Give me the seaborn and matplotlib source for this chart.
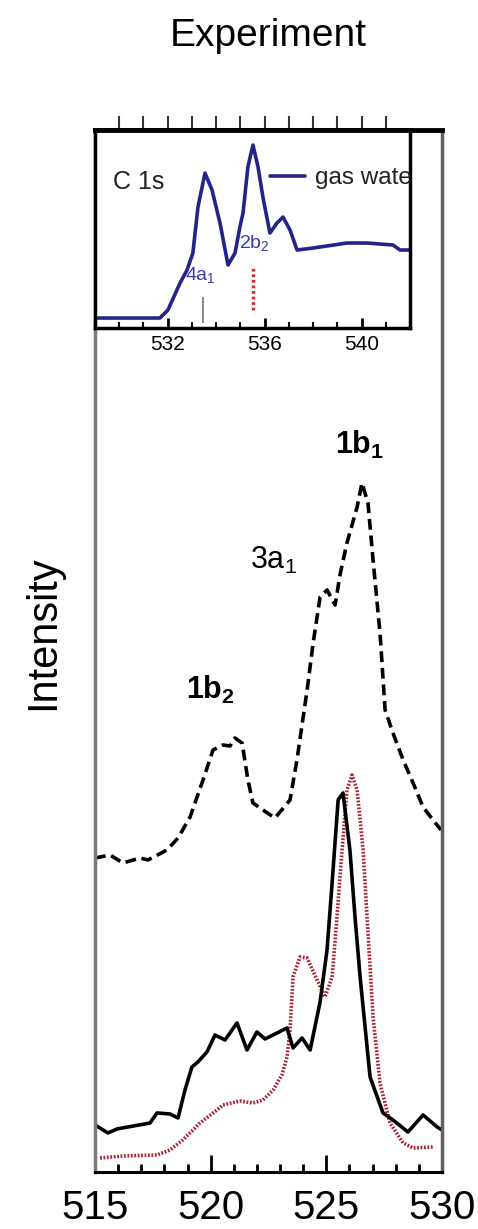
import numpy as np
import pandas as pd
import matplotlib
matplotlib.use("Agg")
import matplotlib.pyplot as plt
from matplotlib.ticker import MultipleLocator
import seaborn as sns

# ── Data (intensity in arbitrary units) ──
# dashed spectrum (upper curve)
dash_x = [515.00, 515.65, 516.21, 516.95, 517.29, 518.11, 518.59, 519.11, 519.67,
          520.10, 520.53, 520.84, 521.05, 521.36, 521.61, 521.83, 522.26, 522.78,
          523.43, 523.73, 524.17, 524.43, 524.73, 525.03, 525.38, 525.59, 525.89,
          526.33, 526.54, 526.80, 527.02, 527.32, 527.54, 527.88, 528.32, 528.75,
          529.18, 529.61, 529.96]
dash_y = [314, 317, 309, 314, 312, 322, 334, 355, 392,
          422, 427, 426, 434, 429, 392, 369, 362, 354,
          372, 412, 482, 529, 575, 582, 567, 597, 629,
          665, 689, 669, 612, 539, 462, 439, 412, 389,
          365, 352, 342]

# solid black spectrum
solid_x = [515.00, 515.56, 515.95, 517.38, 517.68, 518.24, 518.59, 518.89, 519.19,
           519.45, 519.84, 520.19, 520.62, 521.14, 521.57, 522.00, 522.35, 522.87,
           523.30, 523.56, 523.95, 524.30, 524.73, 525.03, 525.25, 525.51, 525.72,
           526.02, 526.24, 526.46, 526.89, 527.45, 527.88, 528.53, 529.18, 529.79,
           530.00]
solid_y = [47, 39, 43, 49, 59, 58, 54, 82, 105,
           110, 120, 137, 132, 149, 122, 140, 133, 139,
           144, 124, 134, 122, 170, 222, 289, 372, 379,
           322, 255, 195, 95, 59, 52, 40, 57, 45,
           42]

# red dotted spectrum
red_x = [515.22, 516.21, 517.68, 518.24, 518.80, 519.54, 520.27, 520.53, 521.27,
         521.83, 522.26, 522.70, 523.08, 523.30, 523.43, 523.56, 523.86, 524.17,
         524.60, 524.94, 525.25, 525.46, 525.68, 525.89, 526.11, 526.33, 526.59,
         526.76, 527.02, 527.32, 527.75, 528.32, 528.75, 529.61]
red_y = [14, 16, 17, 22, 32, 49, 62, 67, 71,
         69, 72, 82, 97, 115, 142, 195, 215, 214,
         192, 175, 195, 255, 322, 382, 397, 382, 322,
         255, 155, 89, 49, 29, 24, 25]

# inset: C 1s gas water
ins_x = [529.00, 531.68, 532.01, 532.51, 532.80, 533.04, 533.25, 533.54, 533.83,
         534.16, 534.49, 534.78, 534.98, 535.11, 535.31, 535.52, 535.73, 535.93,
         536.22, 536.51, 536.76, 537.05, 537.34, 538.00, 539.40, 540.23, 541.30,
         541.59, 542.00]
ins_y = [10, 10, 18, 45, 58, 75, 121, 155, 138,
         105, 63, 75, 101, 115, 161, 183, 161, 131,
         95, 105, 111, 98, 78, 80, 85, 85, 83,
         78, 78]

# inset markers (position, ymin, ymax)
mark_4a1 = (533.46, 5, 31)
mark_2b2 = (535.52, 18, 60)

main_ticks = [515, 520, 525, 530]
inset_ticks = [532, 536, 540]

# ── Style ──
sns.set_theme(style="white")
plt.rcParams["font.family"] = ["Liberation Sans", "DejaVu Sans"]
plt.rcParams["text.color"] = "black"
plt.rcParams["xtick.color"] = "black"
plt.rcParams["xtick.labelcolor"] = "black"
plt.rcParams["mathtext.fontset"] = "custom"
plt.rcParams["mathtext.rm"] = "Liberation Sans"
plt.rcParams["mathtext.it"] = "Liberation Sans:italic"
plt.rcParams["mathtext.bf"] = "Liberation Sans:bold"

BLUE = "#23238a"
RED = "#a82434"

fig = plt.figure(figsize=(4.78, 12.29), dpi=100)
fig.patch.set_facecolor("white")

# main axes
ax = fig.add_axes([0.1987, 0.0464, 0.726, 0.8478])
sns.lineplot(x=dash_x, y=dash_y, ax=ax, color="black", lw=2.6, legend=False)
ax.lines[-1].set_dashes((3, 1.6))
sns.lineplot(x=red_x, y=red_y, ax=ax, color=RED, lw=2.6, legend=False)
ax.lines[-1].set_linestyle((0, (0.5, 0.45)))
sns.lineplot(x=solid_x, y=solid_y, ax=ax, color="black", lw=2.6, legend=False)

ax.set_xlim(515, 530)
ax.set_ylim(0, 1042)
ax.set_xticks(main_ticks)
ax.xaxis.set_minor_locator(MultipleLocator(1))
ax.set_yticks([])
ax.tick_params(axis="x", which="major", direction="in", length=12, width=2,
               labelsize=29, pad=12, bottom=True, color="black", labelcolor="black")
ax.tick_params(axis="x", which="minor", direction="in", length=6, width=2,
               bottom=True, color="black")
ax.set_xlabel("")
ax.set_ylabel("")
ax.spines["left"].set_color("#7a7a7a")
ax.spines["left"].set_linewidth(2.5)
ax.spines["right"].set_color("#606060")
ax.spines["right"].set_linewidth(2.5)
ax.spines["top"].set_color("black")
ax.spines["top"].set_linewidth(3.5)
ax.spines["bottom"].set_color("black")
ax.spines["bottom"].set_linewidth(2.2)

ax.text(526.45, 727, r"$\mathbf{1b_1}$", fontsize=22, ha="center", va="center")
ax.text(522.70, 612, r"3a$_1$", fontsize=22, ha="center", va="center")
ax.text(519.97, 482, r"$\mathbf{1b_2}$", fontsize=22, ha="center", va="center")

# inset
ins = fig.add_axes([0.1987, 0.7331, 0.659, 0.1611])
ins.set_facecolor("white")
sns.lineplot(x=ins_x, y=ins_y, ax=ins, color=BLUE, lw=2.6, label="gas water")
ins.vlines([mark_4a1[0]], mark_4a1[1], mark_4a1[2], color="#808080", lw=1.3)
ins.vlines([mark_2b2[0]], mark_2b2[1], mark_2b2[2], color="#d03030",
           linestyles=(0, (0.8, 0.8)), lw=2.5)
ins.set_xlim(529, 542)
ins.set_ylim(0, 198)
ins.set_xticks(inset_ticks)
ins.xaxis.set_minor_locator(MultipleLocator(1))
ins.set_yticks([])
ins.tick_params(axis="x", which="major", direction="in", length=7, width=2,
                labelsize=15, pad=5, bottom=True, color="black", labelcolor="black")
ins.tick_params(axis="x", which="minor", direction="in", length=4, width=1.5,
                bottom=True, color="black")
for s in ins.spines.values():
    s.set_color("black")
    s.set_linewidth(2.5)
ins.spines["top"].set_linewidth(3.5)

sec = ins.secondary_xaxis("top")
sec.set_xticks(np.arange(530, 542))
sec.tick_params(axis="x", direction="out", length=10, width=1.5,
                labeltop=False, color="#333333")
sec.spines["top"].set_visible(False)

ins.text(529.75, 146, "C 1s", fontsize=18, ha="left", va="center", color="#222222")
ins.text(533.33, 53, r"4a$_1$", fontsize=14, ha="center", va="center", color="#3a3ab0")
ins.text(535.56, 85, r"2b$_2$", fontsize=14, ha="center", va="center", color="#3a3ab0")

# legend: handle from the library, label drawn as clipped text (cut by the spine)
handles, _ = ins.get_legend_handles_labels()
ins.legend(handles=handles, labels=[""], loc="center left",
           bbox_to_anchor=(0.555, 0.758), frameon=False, fontsize=15,
           handlelength=1.7, handletextpad=0, borderpad=0, borderaxespad=0)
ins.text(538.1, 150, "gas water", fontsize=17.5, ha="left", va="center",
         color="#222222", clip_on=True)

fig.text(268 / 478, 1 - 36 / 1229, "Experiment", fontsize=28,
         ha="center", va="center")
fig.text(43 / 478, 1 - 633 / 1229, "Intensity", fontsize=30,
         ha="center", va="center", rotation=90)

fig.savefig("out.png", dpi=100)
